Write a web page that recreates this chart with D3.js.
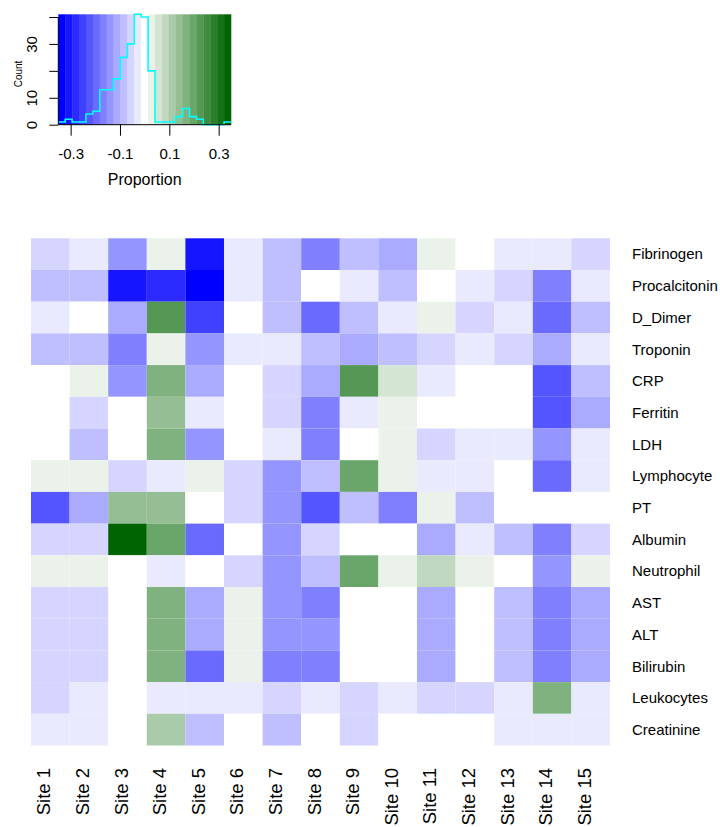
<!DOCTYPE html>
<html>
<head>
<meta charset="utf-8">
<script src="https://cdn.jsdelivr.net/npm/d3@7"></script>
<style>
  body { margin: 0; background: #fff; }
  svg { display: block; }
  text { font-family: "Liberation Sans", Arial, Helvetica, sans-serif; fill: #000; }
</style>
</head>
<body>
<svg id="chart" width="720" height="827"></svg>
<script>
// ---- data -------------------------------------------------------------
const sites = ["Site 1", "Site 2", "Site 3", "Site 4", "Site 5", "Site 6", "Site 7", "Site 8",
               "Site 9", "Site 10", "Site 11", "Site 12", "Site 13", "Site 14", "Site 15"];

const markers = ["Fibrinogen", "Procalcitonin", "D_Dimer", "Troponin", "CRP", "Ferritin", "LDH",
                 "Lymphocyte", "PT", "Albumin", "Neutrophil", "AST", "ALT", "Bilirubin",
                 "Leukocytes", "Creatinine"];

// proportion difference per marker (row) and site (column); null = missing
const proportion = [
  [-0.06, -0.03, -0.14,  0.03, -0.31, -0.03, -0.08, -0.17, -0.08, -0.11,  0.03,  0.00, -0.03, -0.03, -0.06],
  [-0.08, -0.08, -0.31, -0.28, -0.34, -0.03, -0.08,  0.00, -0.03, -0.08,  0.00, -0.03, -0.06, -0.17, -0.03],
  [-0.03,  0.00, -0.11,  0.22, -0.25,  0.00, -0.08, -0.20, -0.08, -0.03,  0.03, -0.06, -0.03, -0.20, -0.08],
  [-0.08, -0.08, -0.17,  0.03, -0.14, -0.03, -0.03, -0.08, -0.11, -0.08, -0.06, -0.03, -0.06, -0.11, -0.03],
  [ 0.00,  0.03, -0.14,  0.17, -0.11,  0.00, -0.06, -0.11,  0.22,  0.06, -0.03,  0.00,  0.00, -0.22, -0.08],
  [ 0.00, -0.06,  0.00,  0.14, -0.03,  0.00, -0.06, -0.17, -0.03,  0.03,  0.00,  0.00,  0.00, -0.22, -0.11],
  [ 0.00, -0.08,  0.00,  0.17, -0.14,  0.00, -0.03, -0.17,  0.00,  0.03, -0.06, -0.03, -0.03, -0.14, -0.03],
  [ 0.03,  0.03, -0.06, -0.03,  0.03, -0.06, -0.14, -0.08,  0.20,  0.03, -0.03, -0.03,  0.00, -0.20, -0.03],
  [-0.22, -0.11,  0.14,  0.14,  0.00, -0.06, -0.14, -0.22, -0.08, -0.17,  0.03, -0.08,  0.00,  0.00,  0.00],
  [-0.06, -0.06,  0.34,  0.20, -0.20,  0.00, -0.14, -0.06,  0.00,  0.00, -0.11, -0.03, -0.08, -0.17, -0.06],
  [ 0.03,  0.03,  0.00, -0.03,  0.00, -0.06, -0.14, -0.08,  0.20,  0.03,  0.08,  0.03,  0.00, -0.14,  0.03],
  [-0.06, -0.06,  null,  0.17, -0.11,  0.03, -0.14, -0.17,  null,  null, -0.11,  0.00, -0.08, -0.17, -0.11],
  [-0.06, -0.06,  null,  0.17, -0.11,  0.03, -0.14, -0.14,  null,  null, -0.11,  0.00, -0.08, -0.17, -0.11],
  [-0.06, -0.06,  null,  0.17, -0.20,  0.03, -0.17, -0.17,  null,  null, -0.11,  0.00, -0.08, -0.17, -0.11],
  [-0.06, -0.03,  0.00, -0.03, -0.03, -0.03, -0.06, -0.03, -0.06, -0.03, -0.06, -0.06, -0.03,  0.17, -0.03],
  [-0.03, -0.03,  0.00,  0.11, -0.08,  0.00, -0.08,  0.00, -0.06,  0.00,  0.00,  0.00, -0.03, -0.03, -0.03]
];

// colour key
const keyRange = [-0.35, 0.35];
const nColors = 25;
const keyTicks = [-0.3, -0.1, 0.1, 0.3];
const countTicks = [0, 10, 20, 30, 40];
const countLabels = [0, 10, 30];
const rampColors = ["blue", "white", "darkgreen"];

// ---- scales -----------------------------------------------------------
const breaks = d3.range(nColors + 1).map(k => keyRange[0] + k * (keyRange[1] - keyRange[0]) / nColors);
const ramp = d3.piecewise(d3.interpolateRgb, rampColors);
const palette = d3.range(nColors).map(i => d3.rgb(ramp(i / (nColors - 1))).formatHex());
const color = d3.scaleThreshold().domain(breaks.slice(1, -1)).range(palette);

const svg = d3.select("#chart");

// ---- heatmap ----------------------------------------------------------
const x = d3.scaleBand().domain(sites).range([31, 610]);
const y = d3.scaleBand().domain(markers).range([238.3, 745.5]);

const cells = [];
markers.forEach((m, r) => sites.forEach((s, c) => cells.push({ m, s, v: proportion[r][c] })));

svg.append("g").selectAll("rect")
  .data(cells.filter(d => d.v !== null))
  .join("rect")
  .attr("x", d => x(d.s))
  .attr("y", d => y(d.m))
  .attr("width", x.bandwidth())
  .attr("height", y.bandwidth())
  .attr("fill", d => color(d.v));

// row labels (right side)
svg.append("g").selectAll("text")
  .data(markers)
  .join("text")
  .attr("x", 632)
  .attr("y", d => y(d) + y.bandwidth() / 2)
  .attr("dy", "0.35em")
  .attr("font-size", 15)
  .text(d => d);

// column labels (bottom, vertical)
svg.append("g").selectAll("text")
  .data(sites)
  .join("text")
  .attr("transform", d => `translate(${x(d) + x.bandwidth() / 2},768) rotate(-90)`)
  .attr("text-anchor", "end")
  .attr("font-size", 18.5)
  .text(d => d);

// ---- colour key with histogram -------------------------------------------
const kx = d3.scaleLinear().domain(keyRange).range([58.3, 231]);

const values = proportion.flat().filter(v => v !== null);
const bins = d3.bin().domain(keyRange).thresholds(breaks.slice(1, -1))(values);
const counts = bins.map(b => b.length);
const ky = d3.scaleLinear().domain([0, d3.max(counts)]).range([124.7, 14.3]);

const key = svg.append("g");

key.append("g").selectAll("rect")
  .data(palette)
  .join("rect")
  .attr("x", (c, i) => kx(breaks[i]))
  .attr("width", (c, i) => kx(breaks[i + 1]) - kx(breaks[i]) + 0.3)
  .attr("y", ky.range()[1])
  .attr("height", ky.range()[0] - ky.range()[1])
  .attr("fill", c => c);

const stepPts = counts.map((c, i) => [breaks[i], c]).concat([[breaks[nColors], counts[nColors - 1]]]);
key.append("path")
  .datum(stepPts)
  .attr("fill", "none")
  .attr("stroke", "cyan")
  .attr("stroke-width", 1.6)
  .attr("d", d3.line().x(d => kx(d[0])).y(d => ky(d[1])).curve(d3.curveStepAfter));

// x axis of key
const xAxis = key.append("g")
  .attr("transform", `translate(0,${ky(0)})`)
  .call(d3.axisBottom(kx).tickValues(keyTicks).tickSize(11).tickPadding(13)
        .tickFormat(d => d.toFixed(1)));
xAxis.select(".domain").remove();
xAxis.selectAll("text").attr("font-size", 15).attr("font-family", null);
xAxis.selectAll("line").attr("stroke", "#000");
key.append("line")
  .attr("x1", kx(keyRange[0])).attr("x2", kx(keyRange[1]))
  .attr("y1", ky(0)).attr("y2", ky(0))
  .attr("stroke", "#000");

// y axis of key
const yAxis = key.append("g")
  .attr("transform", `translate(${kx(keyRange[0])},0)`)
  .call(d3.axisLeft(ky).tickValues(countTicks).tickSize(9)
        .tickFormat(d => countLabels.includes(d) ? String(d) : ""));
yAxis.select(".domain").remove();
yAxis.selectAll("line").attr("stroke", "#000");
yAxis.selectAll("text")
  .attr("font-size", 15).attr("font-family", null)
  .attr("text-anchor", "middle")
  .attr("dy", null)
  .attr("transform", "rotate(-90)")
  .attr("x", 0).attr("y", -21);
key.append("line")
  .attr("x1", kx(keyRange[0])).attr("x2", kx(keyRange[0]))
  .attr("y1", ky(0)).attr("y2", ky(d3.max(countTicks)))
  .attr("stroke", "#000");

key.append("text")
  .attr("x", (kx.range()[0] + kx.range()[1]) / 2)
  .attr("y", 185)
  .attr("text-anchor", "middle")
  .attr("font-size", 16)
  .text("Proportion");

key.append("text")
  .attr("transform", "translate(22,74) rotate(-90)")
  .attr("text-anchor", "middle")
  .attr("font-size", 10)
  .text("Count");
</script>
</body>
</html>
